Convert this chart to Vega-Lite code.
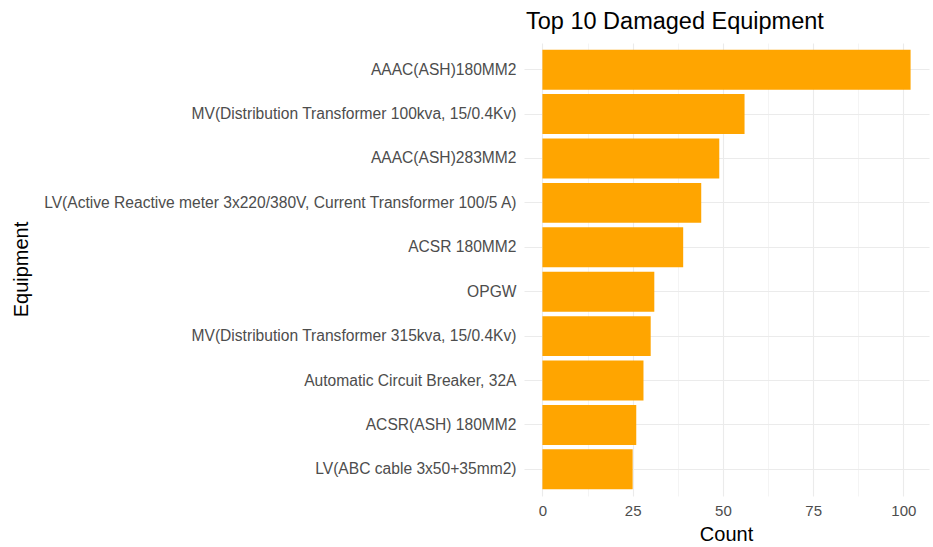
{
  "$schema": "https://vega.github.io/schema/vega-lite/v6.json",
  "autosize": "none",
  "width": 405,
  "height": 453,
  "padding": {"left": 524, "top": 43, "right": 4, "bottom": 51},
  "background": "white",
  "title": {
    "text": "Top 10 Damaged Equipment",
    "anchor": "start",
    "frame": "group",
    "baseline": "alphabetic",
    "offset": -9,
    "font": "Liberation Sans",
    "fontSize": 23.5,
    "fontWeight": "normal",
    "color": "black",
    "dx": 2
  },
  "data": {
    "values": [
      {"Equipment": "AAAC(ASH)180MM2", "Count": 102},
      {"Equipment": "MV(Distribution Transformer 100kva, 15/0.4Kv)", "Count": 56},
      {"Equipment": "AAAC(ASH)283MM2", "Count": 49},
      {"Equipment": "LV(Active Reactive meter 3x220/380V, Current Transformer 100/5 A)", "Count": 44},
      {"Equipment": "ACSR 180MM2", "Count": 39},
      {"Equipment": "OPGW", "Count": 31},
      {"Equipment": "MV(Distribution Transformer 315kva, 15/0.4Kv)", "Count": 30},
      {"Equipment": "Automatic Circuit Breaker, 32A", "Count": 28},
      {"Equipment": "ACSR(ASH) 180MM2", "Count": 26},
      {"Equipment": "LV(ABC cable 3x50+35mm2)", "Count": 25}
    ]
  },
  "mark": {"type": "bar", "color": "#FFA500"},
  "encoding": {
    "y": {
      "field": "Equipment",
      "type": "nominal",
      "sort": {"field": "Count", "order": "descending"},
      "scale": {"paddingInner": 0.1, "paddingOuter": 0.15},
      "axis": {
        "title": "Equipment",
        "titleFont": "Liberation Sans",
        "titleFontSize": 20,
        "titleFontWeight": "normal",
        "titleColor": "black",
        "titleAngle": -90,
        "titleAlign": "center",
        "titleBaseline": "alphabetic",
        "titleX": -497,
        "titleY": 226,
        "labelFont": "Liberation Sans",
        "labelFontSize": 15.6,
        "labelColor": "#4d4d4d",
        "labelPadding": 8,
        "labelLimit": 600,
        "ticks": false,
        "domain": false,
        "grid": true,
        "bandPosition": 0.5,
        "gridColor": "#ebebeb",
        "gridWidth": 1.1
      }
    },
    "x": {
      "field": "Count",
      "type": "quantitative",
      "scale": {"domain": [-5.1, 107.1], "nice": false, "zero": false},
      "axis": {
        "title": "Count",
        "titleFont": "Liberation Sans",
        "titleFontSize": 20,
        "titleFontWeight": "normal",
        "titleColor": "black",
        "titleBaseline": "alphabetic",
        "titleY": 44,
        "titleX": 202,
        "values": [0, 12.5, 25, 37.5, 50, 62.5, 75, 87.5, 100],
        "labelExpr": "datum.value % 25 === 0 ? datum.label : ''",
        "labelFont": "Liberation Sans",
        "labelFontSize": 15,
        "labelColor": "#4d4d4d",
        "labelPadding": 7,
        "ticks": false,
        "domain": false,
        "grid": true,
        "gridColor": "#ebebeb",
        "gridWidth": {"condition": {"test": "datum.value % 25 === 0", "value": 1.1}, "value": 0.55}
      }
    }
  },
  "config": {"view": {"stroke": null}}
}
